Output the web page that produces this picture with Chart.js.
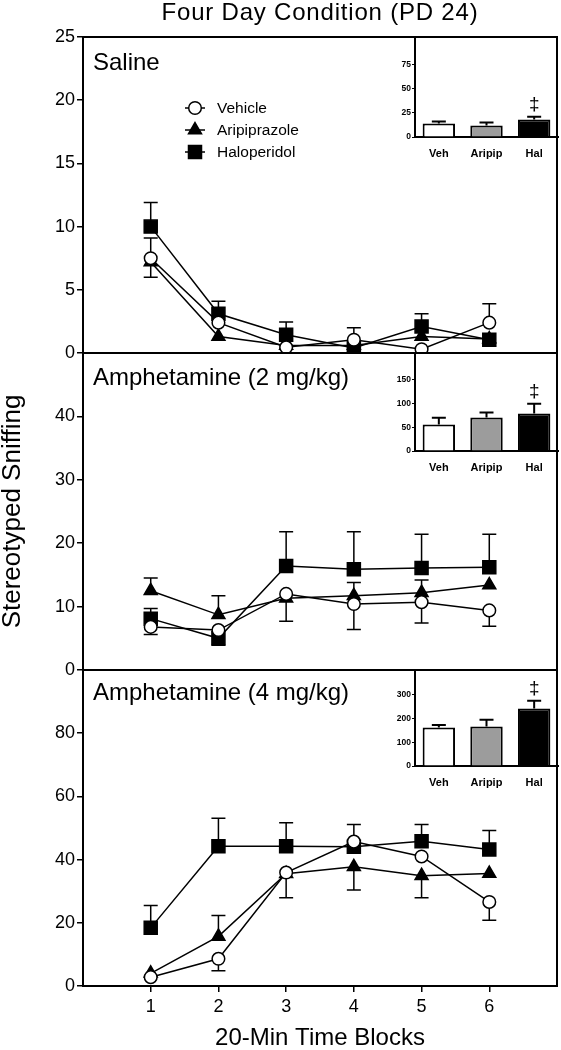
<!DOCTYPE html>
<html><head><meta charset="utf-8">
<script src="https://cdn.jsdelivr.net/npm/chart.js@4.4.1/dist/chart.umd.min.js"></script>
<style>
html,body{margin:0;padding:0;background:#fff;}
#wrap{position:relative;width:561px;height:1050px;overflow:hidden;font-family:'Liberation Sans',Arial,sans-serif;}
canvas{position:absolute;}
.lbl{position:absolute;white-space:nowrap;color:#000;line-height:1;}
</style></head><body>
<div id="wrap">
  <canvas id="m1" width="561" height="1050" style="left:0;top:0"></canvas>
  <canvas id="m2" width="561" height="1050" style="left:0;top:0"></canvas>
  <canvas id="m3" width="561" height="1050" style="left:0;top:0"></canvas>
  <canvas id="i1"></canvas>
  <canvas id="i2"></canvas>
  <canvas id="i3"></canvas>
  <div class="lbl" id="title" style="left:83px;width:474px;top:0px;text-align:center;font-size:24px;letter-spacing:0.8px;">Four Day Condition (PD 24)</div>
  <div class="lbl" style="left:93px;top:50px;font-size:24px;">Saline</div>
  <div class="lbl" style="left:93px;top:365px;font-size:24px;">Amphetamine (2 mg/kg)</div>
  <div class="lbl" style="left:93px;top:680px;font-size:24px;">Amphetamine (4 mg/kg)</div>
</div>
<script>
// ---------- data ----------
const timeBlocks = [1, 2, 3, 4, 5, 6];
const seriesNames = ['Vehicle', 'Aripiprazole', 'Haloperidol'];
const insetLabels = ['Veh', 'Aripip', 'Hal'];

// tick labels
const salTicks = [0, 5, 10, 15, 20, 25];
const a2Ticks  = [0, 10, 20, 30, 40];
const a4Ticks  = [0, 20, 40, 60, 80];
const salInsetTicks = [0, 25, 50, 75];
const a2InsetTicks  = [0, 50, 100, 150];
const a4InsetTicks  = [0, 100, 200, 300];

// Saline
const salVeh   = [7.5, 2.4, 0.45, 1.05, 0.3, 2.4];
const salVehUp = [1.6, 0, 0, 0.95, 0, 1.5];
const salVehDn = [1.5, 0, 0, 0, 0, 0];
const salAri   = [7.2, 1.3, 0.6, 0.6, 1.3, 1.1];
const salHal   = [10.0, 3.1, 1.45, 0.4, 2.1, 1.05];
const salHalUp = [1.9, 1.0, 1.0, 0, 1.0, 0];
const salTotal    = [13.9, 11.8, 18.0];
const salTotalErr = [2.1, 3.1, 2.8];
const salMarks    = ['', '', '‡'];

// Amphetamine 2 mg/kg
const a2Veh   = [6.8, 6.3, 12.0, 10.4, 10.7, 9.4];
const a2VehDn = [1.2, 0, 4.3, 4.0, 3.3, 2.5];
const a2Ari   = [12.5, 8.7, 11.3, 11.7, 12.2, 13.4];
const a2AriUp = [2.0, 3.0, 0, 2.1, 2.0, 0];
const a2Hal   = [8.1, 5.0, 16.4, 15.9, 16.1, 16.2];
const a2HalUp = [1.6, 0, 5.4, 5.9, 5.3, 5.2];
const a2HalDn = [0, 1.1, 0, 0, 0, 0];
const a2Total    = [56, 70.8, 79.2];
const a2TotalErr = [14, 10.6, 20.4];
const a2Marks    = ['', '', '‡'];

// Amphetamine 4 mg/kg
const a4Veh   = [2.8, 8.6, 35.9, 45.7, 41.0, 26.6];
const a4VehUp = [0, 0, 0, 5.4, 0, 0];
const a4VehDn = [0, 3.8, 8.0, 0, 0, 5.8];
const a4Ari   = [4.0, 15.7, 35.5, 37.7, 34.9, 35.6];
const a4AriUp = [0, 6.6, 0, 0, 0, 0];
const a4AriDn = [0, 0, 0, 7.3, 7.0, 0];
const a4Hal   = [18.4, 44.2, 44.2, 44.1, 45.8, 43.2];
const a4HalUp = [7.1, 8.9, 7.5, 0, 5.3, 6.0];
const a4Total    = [162.7, 167, 243];
const a4TotalErr = [9.8, 28, 32];
const a4Marks    = ['', '', '‡'];

// ---------- helpers ----------
const FONT = "'Liberation Sans', Arial, sans-serif";
const pts = arr => timeBlocks.map((x, i) => ({x: x, y: arr[i]}));
const asTicks = arr => arr.map(v => ({value: v}));

const styles = [
  {pointStyle: 'circle', pointRadius: 6.3, pointBackgroundColor: '#fff'},
  {pointStyle: 'triangle', pointRadius: 7.5, pointBackgroundColor: '#000'},
  {pointStyle: 'rect', pointRadius: 9.2, pointBackgroundColor: '#000'}
];

function makeSets(vals) {
  return vals.map((v, i) => Object.assign({
    label: seriesNames[i], data: pts(v), borderColor: '#000', borderWidth: 1.5,
    pointBorderColor: '#000', pointBorderWidth: 1.5, tension: 0, fill: false
  }, styles[i]));
}

const errorBars = {
  id: 'errorBars',
  beforeDatasetsDraw(chart, args, o) {
    const ctx = chart.ctx, xs = chart.scales.x, ys = chart.scales.y;
    ctx.save(); ctx.strokeStyle = '#000'; ctx.lineWidth = 1.5;
    (o.sets || []).forEach((s, di) => {
      chart.data.datasets[di].data.forEach((p, i) => {
        const px = xs.getPixelForValue(p.x), py = ys.getPixelForValue(p.y);
        [['up', 1], ['dn', -1]].forEach(([k, sg]) => {
          const e = s[k] && s[k][i]; if (!e) return;
          const ey = ys.getPixelForValue(p.y + sg * e);
          ctx.beginPath(); ctx.moveTo(px, py); ctx.lineTo(px, ey);
          ctx.moveTo(px - 7, ey); ctx.lineTo(px + 7, ey); ctx.stroke();
        });
      });
    });
    ctx.restore();
  }
};

const frame = {
  id: 'frame',
  afterDraw(chart) {
    const a = chart.chartArea, ctx = chart.ctx;
    ctx.save(); ctx.strokeStyle = '#000'; ctx.lineWidth = 2;
    ctx.strokeRect(a.left, a.top, a.right - a.left, a.bottom - a.top);
    ctx.restore();
  }
};

const innerLegend = {
  id: 'innerLegend',
  afterDraw(chart, args, o) {
    if (!o.show) return;
    const ctx = chart.ctx;
    chart.data.datasets.forEach((d, i) => {
      const y = o.y + i * o.gap, x = o.x;
      ctx.save();
      ctx.strokeStyle = '#000'; ctx.lineWidth = 1.5;
      ctx.beginPath(); ctx.moveTo(x - 10, y); ctx.lineTo(x + 10, y); ctx.stroke();
      ctx.fillStyle = d.pointBackgroundColor; ctx.strokeStyle = '#000'; ctx.lineWidth = 1.5;
      Chart.helpers.drawPoint(ctx, {pointStyle: d.pointStyle, radius: d.pointRadius, rotation: 0, borderWidth: 1.5}, x, y);
      ctx.fillStyle = '#000'; ctx.font = o.font + 'px ' + FONT;
      ctx.textBaseline = 'middle'; ctx.textAlign = 'left';
      ctx.fillText(d.label, o.textX, y + 1);
      ctx.restore();
    });
  }
};

function mainChart(id, top, bottom, yMax, yTicks, vals, errs, extra) {
  extra = extra || {};
  const isLast = !!extra.xTitle;
  return new Chart(document.getElementById(id), {
    type: 'line',
    data: {datasets: makeSets(vals)},
    plugins: [errorBars, frame, innerLegend],
    options: {
      responsive: false, animation: false, devicePixelRatio: 1,
      layout: {autoPadding: false, padding: {left: 0, right: 4, top: top, bottom: isLast ? 0 : 1050 - bottom}},
      plugins: {
        legend: {display: false}, tooltip: {enabled: false},
        errorBars: {sets: errs},
        innerLegend: extra.legend || {show: false}
      },
      scales: {
        x: {
          type: 'linear', min: 0, max: 7, display: isLast,
          afterBuildTicks: s => { s.ticks = asTicks(timeBlocks); },
          afterFit: s => { if (isLast) s.height = 1050 - bottom; },
          ticks: {color: '#000', font: {family: FONT, size: 18}, padding: 4, maxRotation: 0},
          grid: {drawOnChartArea: false, drawTicks: true, tickLength: 6, color: '#000', lineWidth: 1.5},
          border: {display: false},
          title: isLast ? {display: true, text: extra.xTitle, color: '#000', font: {family: FONT, size: 24, lineHeight: 1}, padding: {top: 0, bottom: 0}} : {display: false}
        },
        y: {
          min: 0, max: yMax,
          afterBuildTicks: s => { s.ticks = asTicks(yTicks); },
          afterFit: s => { s.width = 83; },
          ticks: {color: '#000', font: {family: FONT, size: 18}, padding: 2},
          grid: {drawOnChartArea: false, drawTicks: true, tickLength: 6, color: '#000', lineWidth: 1.5},
          border: {display: false},
          title: extra.yTitle ? {display: true, text: extra.yTitle, color: '#000', font: {family: FONT, size: 26, lineHeight: 1}, padding: {top: 0, bottom: 0}} : {display: false}
        }
      }
    }
  });
}

mainChart('m1', 37, 353, 25, salTicks, [salVeh, salAri, salHal],
  [{up: salVehUp, dn: salVehDn}, {}, {up: salHalUp}],
  {legend: {show: true, x: 195, y: 108, gap: 22, textX: 217, font: 15.5}});
mainChart('m2', 353, 670, 50, a2Ticks, [a2Veh, a2Ari, a2Hal],
  [{dn: a2VehDn}, {up: a2AriUp}, {up: a2HalUp, dn: a2HalDn}],
  {yTitle: 'Stereotyped Sniffing'});
mainChart('m3', 670, 986, 100, a4Ticks, [a4Veh, a4Ari, a4Hal],
  [{up: a4VehUp, dn: a4VehDn}, {up: a4AriUp, dn: a4AriDn}, {up: a4HalUp}],
  {xTitle: '20-Min Time Blocks'});

// ---------- insets ----------
const barErr = {
  id: 'barErr',
  afterDatasetsDraw(chart, args, o) {
    const ctx = chart.ctx, ys = chart.scales.y, meta = chart.getDatasetMeta(0);
    const ds = chart.data.datasets[0];
    ctx.save(); ctx.strokeStyle = '#000'; ctx.lineWidth = 2;
    meta.data.forEach((bar, i) => {
      const v = ds.data[i], e = o.err[i];
      const top = ys.getPixelForValue(v), ey = ys.getPixelForValue(v + e);
      ctx.beginPath(); ctx.moveTo(bar.x, top); ctx.lineTo(bar.x, ey);
      ctx.moveTo(bar.x - 7, ey); ctx.lineTo(bar.x + 7, ey); ctx.stroke();
      if (o.marks[i]) {
        ctx.fillStyle = '#000'; ctx.font = '19px ' + FONT;
        ctx.textAlign = 'center'; ctx.textBaseline = 'middle';
        ctx.fillText(o.marks[i], bar.x, ey - 12);
      }
    });
    ctx.restore();
  }
};

function insetChart(id, panelTop, baseline, yMax, yTicks, vals, errs, marks) {
  const cv = document.getElementById(id);
  const h = baseline - panelTop + 10 + 22;
  cv.width = 215; cv.height = h;
  cv.style.left = '355px'; cv.style.top = (panelTop - 10) + 'px';
  return new Chart(cv, {
    type: 'bar',
    data: {labels: insetLabels, datasets: [{data: vals,
      backgroundColor: ['#ffffff', '#9c9c9c', '#000000'], borderColor: '#000', borderWidth: 2,
      categoryPercentage: 1, barPercentage: 0.68}]},
    plugins: [barErr],
    options: {
      responsive: false, animation: false, devicePixelRatio: 1,
      layout: {autoPadding: false, padding: {left: 0, right: 12, top: 10, bottom: 0}},
      plugins: {legend: {display: false}, tooltip: {enabled: false}, barErr: {err: errs, marks: marks}},
      scales: {
        x: {
          afterFit: s => { s.height = 22; },
          ticks: {color: '#000', font: {family: FONT, size: 11, weight: 'bold'}, padding: 2},
          grid: {display: false},
          border: {display: true, color: '#000', width: 2}
        },
        y: {
          min: 0, max: yMax,
          afterBuildTicks: s => { s.ticks = asTicks(yTicks); },
          afterFit: s => { s.width = 60; },
          ticks: {color: '#000', font: {family: FONT, size: 8.5, weight: 'bold'}, padding: 1},
          grid: {drawOnChartArea: false, drawTicks: true, tickLength: 3, color: '#000', lineWidth: 1},
          border: {display: true, color: '#000', width: 2}
        }
      }
    }
  });
}

insetChart('i1', 37, 137, 103, salInsetTicks, salTotal, salTotalErr, salMarks);
insetChart('i2', 353, 451, 207, a2InsetTicks, a2Total, a2TotalErr, a2Marks);
insetChart('i3', 670, 766, 405, a4InsetTicks, a4Total, a4TotalErr, a4Marks);
</script>
</body></html>
